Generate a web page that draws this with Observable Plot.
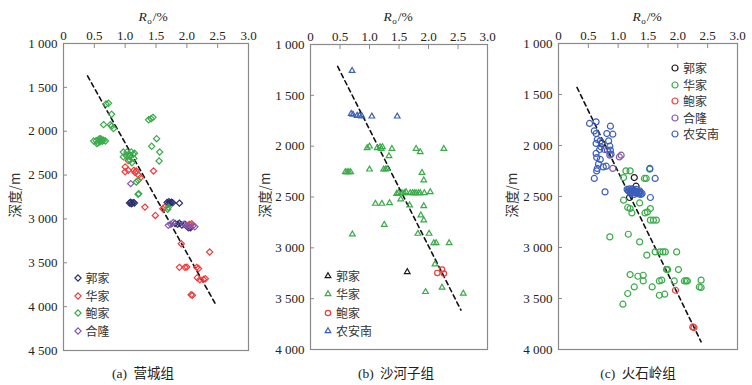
<!DOCTYPE html>
<html><head><meta charset="utf-8">
<script src="https://cdn.jsdelivr.net/npm/d3@7"></script>
<script src="https://cdn.jsdelivr.net/npm/@observablehq/plot@0.6"></script>
<style>
body{margin:0;background:#fff;}
#root{position:relative;width:752px;height:385px;overflow:hidden;font-family:"Liberation Serif","Noto Sans CJK SC",serif;color:#222;}
#root svg text{font-family:"Liberation Serif",serif !important;font-size:13px !important;}
.panel{position:absolute;top:0;}
.lbl{position:absolute;white-space:nowrap;line-height:1;}
.title{font-size:13.5px;transform:translate(-50%,-50%);}
.title i{font-style:italic;}
.title sub{font-size:9px;vertical-align:-3px;margin-left:0.5px;margin-right:1px;}
.ylab{font-size:13.5px;transform:translate(-50%,-50%) rotate(-90deg);font-family:"Noto Sans CJK SC",sans-serif;color:#333;}
.cap{font-size:13.5px;transform:translate(-50%,-50%);font-family:"Liberation Serif","Noto Sans CJK SC",serif;word-spacing:3px;}
.leg{position:absolute;font-family:"Noto Sans CJK SC",sans-serif;font-size:12px;color:#333;line-height:1;}
.leg .row{display:flex;align-items:center;overflow:visible;}
.leg .row span{line-height:1;display:inline-block;}
.leg svg{flex:none;}
</style>
</head><body><div id="root"></div>
<script>
// ---------- shared ticks ----------
const xTicks = [0, 0.5, 1.0, 1.5, 2.0, 2.5, 3.0];
const yTicksA = [1000, 1500, 2000, 2500, 3000, 3500, 4000, 4500];
const yTicksBC = [1000, 1500, 2000, 2500, 3000, 3500, 4000];

// ---------- (a) 营城组 ----------
const seriesA = ["郭家", "华家", "鲍家", "合隆"];
const a_guo = [[1.07,2818],[1.09,2810],[1.11,2822],[1.13,2814],[1.10,2828],[1.15,2818],[1.68,2812],[1.71,2804],[1.73,2818],[1.75,2808],[1.70,2826],[1.77,2816],[1.88,2820],[1.81,3052],[1.85,3062],[1.88,3050],[1.92,3070],[1.97,3060],[2.01,3090],[2.06,3100],[2.03,3102]];
const a_hua = [[1.00,2407],[1.00,2462],[1.05,2335],[1.05,2446],[1.14,2446],[1.18,2454],[1.16,2470],[1.22,2503],[1.25,2529],[1.46,2454],[1.32,2865],[1.49,2960],[1.61,2884],[1.64,2866],[2.04,3062],[2.08,3055],[2.06,3073],[1.91,3283],[2.37,3377],[1.88,3552],[1.97,3552],[2.00,3549],[2.16,3552],[2.19,3566],[2.17,3670],[2.21,3693],[2.27,3690],[2.30,3682],[2.07,3865],[2.09,3870]];
const a_bao = [[0.69,1690],[0.73,1682],[0.78,1807],[0.65,1925],[0.76,1925],[0.78,1944],[0.81,1970],[0.49,2111],[0.53,2108],[0.57,2095],[0.59,2084],[0.62,2103],[0.59,2122],[0.56,2133],[0.65,2103],[0.68,2111],[0.54,2140],[0.61,2090],[0.63,2115],[1.38,1870],[1.42,1858],[1.45,1842],[1.51,2085],[1.43,2172],[1.56,2237],[1.55,2340],[0.97,2237],[1.03,2236],[1.10,2236],[1.06,2263],[1.13,2263],[0.97,2293],[1.07,2285],[1.14,2310],[1.08,2330],[1.11,2360],[1.15,2250],[1.02,2280],[1.18,2579],[1.21,2560],[1.21,2720],[1.22,2712],[1.70,2868],[1.69,2890]];
const a_he = [[1.09,2598],[1.70,3073],[1.74,3060],[1.78,3040],[1.95,3062],[2.00,3073],[2.03,3090],[2.10,3078],[2.13,3090]];
const trendA_x = [0.39, 2.48];
const trendA_y = [1370, 3990];

// ---------- (b) 沙河子组 ----------
const seriesB = ["郭家", "华家", "鲍家", "农安南"];
const b_guo = [[1.64,3237]];
const b_hua = [[0.96,2018],[1.00,2002],[1.13,2018],[1.18,2009],[1.20,2025],[1.22,2009],[1.38,2025],[1.33,2097],[1.79,2025],[1.86,2058],[2.26,2025],[0.59,2254],[0.62,2254],[0.65,2254],[0.68,2254],[1.00,2228],[1.24,2228],[1.27,2228],[1.30,2222],[1.89,2261],[1.92,2336],[1.46,2467],[1.49,2461],[1.55,2461],[1.59,2461],[1.62,2451],[1.69,2461],[1.73,2461],[1.76,2461],[1.79,2461],[1.83,2461],[1.86,2461],[1.93,2461],[2.03,2451],[1.53,2523],[1.68,2582],[1.10,2565],[1.21,2565],[1.34,2559],[1.92,2588],[1.87,2680],[1.92,2729],[1.25,2772],[0.71,2867],[1.82,2860],[2.01,2860],[2.09,2952],[2.13,2952],[2.35,2952],[2.11,3161],[1.95,3433],[2.23,3391],[2.59,3450]];
const b_bao = [[2.23,3214],[2.15,3247],[2.26,3253]];
const b_nan = [[0.705,1258],[0.69,1681],[0.72,1688],[0.79,1700],[0.83,1698],[0.87,1705],[1.04,1707],[1.47,1707]];
const trendB_x = [0.46, 2.55];
const trendB_y = [1216, 3613];

// ---------- (c) 火石岭组 ----------
const seriesC = ["郭家", "华家", "鲍家", "合隆", "农安南"];
const c_guo = [[0.73,1980],[1.27,2314],[1.30,2399],[1.19,2510]];
const c_hua = [[1.13,2249],[1.20,2249],[1.09,2314],[1.44,2323],[1.47,2323],[1.53,2232],[1.09,2536],[1.36,2563],[1.16,2608],[1.20,2618],[1.23,2661],[1.45,2661],[1.49,2651],[1.54,2618],[1.54,2732],[1.59,2732],[1.64,2732],[0.86,2896],[1.17,2870],[1.36,2945],[1.48,3075],[1.62,3043],[1.70,3043],[1.75,3043],[1.79,3043],[1.98,3043],[1.81,3216],[1.83,3216],[2.01,3216],[1.20,3265],[1.33,3282],[1.42,3272],[1.42,3328],[1.57,3387],[1.69,3328],[1.73,3320],[1.94,3328],[2.11,3328],[2.14,3328],[2.16,3328],[2.39,3320],[2.36,3387],[2.39,3392],[1.27,3387],[1.16,3451],[1.69,3468],[1.78,3458],[1.08,3556]];
const c_bao = [[1.96,3419],[2.25,3779],[2.27,3785]];
const c_he = [[0.77,2039],[0.86,2095],[1.02,2112],[1.05,2095],[0.91,2225]];
const c_nan = [[0.52,1784],[0.63,1768],[0.60,1857],[0.63,1883],[0.65,1941],[0.63,1980],[0.70,1955],[0.71,2013],[0.69,2039],[0.81,1883],[0.91,1889],[0.87,1811],[0.84,1955],[0.86,2007],[0.82,2046],[0.87,2046],[0.88,2085],[0.63,2078],[0.64,2118],[0.70,2137],[0.65,2225],[0.64,2249],[0.75,2210],[0.80,2203],[0.67,2183],[0.60,2323],[0.78,2455],[1.53,2225],[1.62,2323],[1.54,2510],[1.15,2430],[1.17,2445],[1.19,2425],[1.20,2450],[1.22,2435],[1.23,2460],[1.25,2440],[1.26,2455],[1.28,2445],[1.29,2465],[1.31,2450],[1.32,2470],[1.34,2455],[1.35,2475],[1.37,2460],[1.38,2480],[1.40,2470],[1.24,2425],[1.30,2430],[1.36,2445],[1.21,2470],[1.27,2480]];
const trendC_x = [0.31, 2.39];
const trendC_y = [1431, 3925];

// ---------- colours / symbols by series ----------
const colorsA = ["#2d2f6e", "#f23b3b", "#3aab4a", "#8559b0"];
const colorsB = ["#1a1a1a", "#3aab4a", "#f23b3b", "#3b5fbb"];
const colorsC = ["#1a1a1a", "#3aab4a", "#f23b3b", "#8559b0", "#3b5fbb"];
const symbolsA = ["diamond2", "diamond2", "diamond2", "diamond2"];
const symbolsB = ["triangle2", "triangle2", "circle", "triangle2"];
const symbolsC = ["circle", "circle", "circle", "circle", "circle"];

const fmtX = d => d === 0 ? "0" : d.toFixed(1);
const fmtY = d => d3.format(",")(d).replace(/,/g, " ");

function rows(names, arrays) {
  return arrays.flatMap((arr, i) => arr.map(([x, y]) => ({x, y, s: names[i]})));
}
function trend(xs, ys) { return xs.map((x, i) => ({x, y: ys[i]})); }

const root = document.getElementById("root");

function makePanel(cfg) {
  const chart = Plot.plot({
    width: cfg.width, height: 385,
    marginLeft: cfg.ml, marginRight: cfg.mr, marginTop: cfg.mt, marginBottom: cfg.mb,
    style: {background: "transparent", fontFamily: "'Liberation Serif', serif", fontSize: "13px", overflow: "visible"},
    x: {domain: [0, 3], axis: null},
    y: {domain: [1000, cfg.yMax], reverse: true, axis: null},
    color: {domain: cfg.series, range: cfg.colors},
    symbol: {domain: cfg.series, range: cfg.symbols},
    marks: [
      Plot.frame({stroke: "#8a8a8a", strokeWidth: 1.2}),
      Plot.axisX(xTicks, {anchor: "top", tickFormat: fmtX, tickSize: -4, tickPadding: 8, stroke: "#8a8a8a", fill: "#222", label: null}),
      Plot.axisY(cfg.yTicks, {anchor: "left", tickFormat: fmtY, tickSize: -4, tickPadding: 10, stroke: "#8a8a8a", fill: "#222", label: null}),
      Plot.line(cfg.trend, {x: "x", y: "y", stroke: "#111", strokeWidth: 1.6, strokeDasharray: "4.5,3.5"}),
      Plot.dot(cfg.data, {x: "x", y: "y", stroke: "s", symbol: "s", fill: "none", r: cfg.r, strokeWidth: 1.2})
    ]
  });
  const div = document.createElement("div");
  div.className = "panel";
  div.style.left = cfg.left + "px";
  div.appendChild(chart);
  root.appendChild(div);

  const t = document.createElement("div");
  t.className = "lbl title";
  t.style.left = cfg.titleX + "px"; t.style.top = "18px";
  t.innerHTML = "<i>R</i><sub>o</sub>/%";
  root.appendChild(t);

  const yl = document.createElement("div");
  yl.className = "lbl ylab";
  yl.style.left = cfg.ylabX + "px"; yl.style.top = cfg.ylabY + "px";
  yl.textContent = "深度/m";
  root.appendChild(yl);

  const c = document.createElement("div");
  c.className = "lbl cap";
  c.style.left = cfg.capX + "px"; c.style.top = "374px";
  c.textContent = cfg.caption;
  root.appendChild(c);

  const leg = document.createElement("div");
  leg.className = "leg";
  leg.style.left = (cfg.legX - 5) + "px";
  leg.style.top = (cfg.legY - cfg.legH / 2) + "px";
  cfg.series.forEach((name, i) => {
    const row = document.createElement("div");
    row.className = "row";
    row.style.height = cfg.legH + "px";
    const sym = {diamond2: d3.symbolDiamond2, triangle2: d3.symbolTriangle2, circle: d3.symbolCircle}[cfg.symbols[i]];
    const path = d3.symbol(sym, Math.PI * cfg.r * cfg.r)();
    row.innerHTML = `<svg width="10" height="10" viewBox="-5 -5 10 10"><path d="${path}" fill="none" stroke="${cfg.colors[i]}" stroke-width="1.2"/></svg><span style="margin-left:${cfg.legGap}px">${name}</span>`;
    leg.appendChild(row);
  });
  root.appendChild(leg);
}

makePanel({
  left: 0, width: 250, ml: 63, mr: 2, mt: 43, mb: 35, yMax: 4500, yTicks: yTicksA,
  series: seriesA, colors: colorsA, symbols: symbolsA, r: 2.8,
  data: rows(seriesA, [a_guo, a_hua, a_bao, a_he]), trend: trend(trendA_x, trendA_y),
  titleX: 153, ylabX: 15, ylabY: 195, capX: 143, caption: "(a) 营城组",
  legX: 77.5, legY: 278, legH: 17.7, legGap: 3
});
makePanel({
  left: 250, width: 250, ml: 60, mr: 13, mt: 44, mb: 36, yMax: 4000, yTicks: yTicksBC,
  series: seriesB, colors: colorsB, symbols: symbolsB, r: 2.7,
  data: rows(seriesB, [b_guo, b_hua, b_bao, b_nan]), trend: trend(trendB_x, trendB_y),
  titleX: 398, ylabX: 265, ylabY: 195, capX: 396, caption: "(b) 沙河子组",
  legX: 328, legY: 276, legH: 18.3, legGap: 3
});
makePanel({
  left: 500, width: 252, ml: 58, mr: 15, mt: 43, mb: 36, yMax: 4000, yTicks: yTicksBC,
  series: seriesC, colors: colorsC, symbols: symbolsC, r: 3,
  data: rows(seriesC, [c_guo, c_hua, c_bao, c_he, c_nan]), trend: trend(trendC_x, trendC_y),
  titleX: 647, ylabX: 512, ylabY: 195, capX: 638, caption: "(c) 火石岭组",
  legX: 675, legY: 68, legH: 16.5, legGap: 3
});
</script>
</body></html>
